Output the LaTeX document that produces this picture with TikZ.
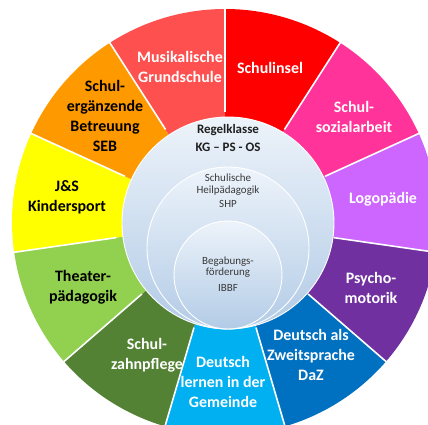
\documentclass[tikz,border=0pt]{standalone}
\usepackage{fontspec}
\setmainfont{Carlito}
\definecolor{cmusik}{HTML}{FF5050}
\definecolor{cschulinsel}{HTML}{FF0000}
\definecolor{csozial}{HTML}{FF3399}
\definecolor{clogo}{HTML}{CC66FF}
\definecolor{cpsycho}{HTML}{7030A0}
\definecolor{cdaz}{HTML}{0070C0}
\definecolor{cdl}{HTML}{00B0F0}
\definecolor{czahn}{HTML}{548235}
\definecolor{ctheater}{HTML}{92D050}
\definecolor{cjs}{HTML}{FFFF00}
\definecolor{cseb}{HTML}{FF9900}
\definecolor{ctop}{HTML}{EDF3FA}
\definecolor{cbot}{HTML}{B2CBE6}
\definecolor{ctext}{HTML}{1E1E1E}
\definecolor{csmall}{HTML}{3A3A3A}
\begin{document}
\begin{tikzpicture}[x=1bp,y=1bp,
  wlabel/.style={font=\bfseries\fontsize{16}{20}\selectfont, align=center, text=white, inner sep=0pt},
  dlabel/.style={wlabel, text=black},
  divider/.style={draw=white, line width=1.6bp},
  venn/.style={circle, draw=white, line width=0.9bp, inner sep=0pt, top color=ctop, bottom color=cbot},
  bigtext/.style={font=\bfseries\fontsize{13}{19}\selectfont, align=center, text=ctext, inner sep=0pt},
  smalltext/.style={font=\fontsize{11}{11.5}\selectfont, align=center, text=csmall, inner sep=0pt}]
\useasboundingbox (0,0) rectangle (428,425);
\clip (0,0) rectangle (428,425);
\fill[white] (0,0) rectangle (428,425);
\coordinate (C) at (225,203);
\def\s{32.72727}
\foreach \col [count=\i from 0] in {cschulinsel,csozial,clogo,cpsycho,cdaz,cdl,czahn,ctheater,cjs,cseb,cmusik} {
  \pgfmathsetmacro\aend{90-\i*\s}
  \pgfmathsetmacro\astart{90-(\i+1)*\s}
  \fill[\col] (C) -- ++(\astart:213) arc[start angle=\astart, end angle=\aend, radius=213] -- cycle;
}
\foreach \i in {0,...,10} {
  \pgfmathsetmacro\a{90-\i*\s}
  \draw[divider, shift={(C)}] (\a:110) -- (\a:215);
}
% wedge labels
\node[wlabel] (musik) at (180,358) {Musikalische\\Grundschule};
\node[wlabel] (schulinsel) at (270,357) {Schulinsel};
\node[wlabel] (sozial) at (354,308) {Schul-\\sozialarbeit};
\node[wlabel] (logo) at (383,226) {Logopädie};
\node[wlabel] (psycho) at (371,137) {Psycho-\\motorik};
\node[wlabel] (daz) at (311,70) {Deutsch als\\Zweitsprache\\DaZ};
\node[wlabel] (dl) at (223,43) {Deutsch\\lernen in der\\Gemeinde};
\node[wlabel] (zahn) at (147,70) {Schul-\\zahnpflege};
\node[dlabel] (theater) at (83,138) {Theater-\\pädagogik};
\node[dlabel] (js) at (67,228) {J\&S\\Kindersport};
\node[dlabel] (seb) at (105,309) {Schul-\\ergänzende\\Betreuung\\SEB};
% central circles
\node[venn, minimum size=212bp] (big) at (228,202) {};
\node[venn, minimum size=162bp] (mid) at (228,177) {};
\node[venn, minimum size=108bp] (inner) at (228,150) {};
\node[bigtext] (regel) at (228,287) {Regelklasse\\KG – PS - OS};
\node[smalltext] (shp) at (228,234) {Schulische\\Heilpädagogik\\[3bp]SHP};
\node[smalltext] (ibbf) at (228,151) {Begabungs-\\förderung\\[4bp]IBBF};
\end{tikzpicture}
\end{document}
